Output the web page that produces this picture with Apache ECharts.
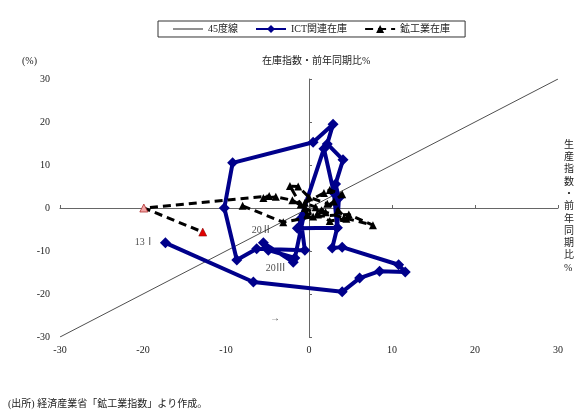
<!DOCTYPE html>
<html><head><meta charset="utf-8">
<script src="https://cdn.jsdelivr.net/npm/echarts@6/dist/echarts.min.js"></script>
<style>html,body{margin:0;padding:0;background:#fff}#c{width:580px;height:417px}</style>
</head><body><div id="c"></div>
<script>
// ---- data ----
const seriesNames = ['45度線', 'ICT関連在庫', '鉱工業在庫'];
const axisMin = -30, axisMax = 30, axisStep = 10;
const diagonalLine = [[-30, -30], [30, 30]];
// [生産指数 前年同期比, 在庫指数 前年同期比], 2013 I … 2020 III
const ictPoints = [
  [-17.3, -8.1], [-6.7, -17.2], [4.0, -19.5], [6.1, -16.3], [8.5, -14.7],
  [11.6, -14.9], [10.8, -13.2], [4.0, -9.1], [2.8, -9.3], [3.4, -4.6],
  [3.6, 2.3], [3.2, 5.6], [4.1, 11.2], [2.2, 14.9], [2.9, 19.5],
  [0.5, 15.3], [-9.2, 10.5], [-10.2, 0.0], [-8.7, -12.1], [-6.3, -9.5],
  [-0.5, -9.8], [-1.0, -2.5], [1.8, 13.8], [3.0, 3.5], [3.4, -4.6],
  [-1.4, -4.7], [-0.6, -1.5], [-1.7, -11.6], [-4.9, -9.8], [-5.5, -8.1],
  [-1.9, -12.6]
];
const miningPoints = [
  [-8.0, 0.5], [-3.1, -3.3], [0.5, -2.0], [4.8, -1.5], [7.7, -4.0],
  [4.2, -2.3], [2.0, -1.0], [0.8, 0.2], [-0.5, 1.2], [1.8, 3.5],
  [2.5, 4.2], [4.0, 3.2], [3.0, 1.5], [1.5, -0.5], [-0.2, -1.5],
  [-1.0, 0.8], [-2.3, 5.1], [-1.3, 5.0], [0.0, 2.5], [2.2, 1.0],
  [3.5, -0.5], [4.5, -2.5], [2.5, -3.0], [1.0, -1.5], [-0.5, 0.0],
  [-2.0, 1.8], [-4.0, 2.6], [-5.5, 2.3], [-4.8, 2.8], [-19.9, 0.0],
  [-12.8, -5.6]
];
const annotationText = ['13Ⅰ', '20Ⅱ', '20Ⅲ', '→'];
const annotationCoord = [[-19.8, -8.1], [-5.7, -5.1], [-4.0, -14.0], [-4.1, -25.6]];

// ---- chart ----
const FONT = '"Liberation Serif", "Noto Sans CJK JP", serif';
const chart = echarts.init(document.getElementById('c'));
const n = miningPoints.length;
const miningData = miningPoints.map((p, i) => {
  if (i === n - 2) return { value: p, itemStyle: { color: '#f4a6a6', borderColor: '#b03030', borderWidth: 0.8 } };
  if (i === n - 1) return { value: p, itemStyle: { color: '#e00000', borderColor: '#800000', borderWidth: 0.5 } };
  return { value: p };
});
const axisBase = { type: 'value', min: axisMin, max: axisMax, interval: axisStep, splitLine: { show: false } };
chart.setOption({
  animation: false,
  textStyle: { fontFamily: FONT },
  grid: { left: 60, right: 22, top: 79, bottom: 80 },
  title: {
    text: '在庫指数・前年同期比%', left: 257, top: 51,
    textStyle: { fontSize: 10, fontWeight: 'normal', color: '#222', fontFamily: FONT }
  },
  legend: {
    data: [
      { name: seriesNames[0], icon: 'path://M0,0H30V1H0Z', itemStyle: { color: '#222' } },
      { name: seriesNames[1] },
      { name: seriesNames[2] }
    ],
    left: 158, top: 21, itemWidth: 30, itemHeight: 10, itemGap: 17,
    padding: [3, 15, 3, 15], borderColor: '#333', borderWidth: 1,
    textStyle: { fontSize: 10, color: '#222', fontFamily: FONT }
  },
  xAxis: [
    Object.assign({}, axisBase, {
      position: 'top', axisLine: { onZero: true, lineStyle: { color: '#666', width: 1 } },
      axisTick: { show: true, inside: false, length: 3, lineStyle: { color: '#666' } },
      axisLabel: { show: false }
    }),
    Object.assign({}, axisBase, {
      position: 'bottom', axisLine: { show: false, onZero: false }, axisTick: { show: false },
      axisLabel: { fontSize: 10, color: '#222', margin: 8, fontFamily: FONT }
    })
  ],
  yAxis: [
    Object.assign({}, axisBase, {
      position: 'right', axisLine: { onZero: true, lineStyle: { color: '#666', width: 1 } },
      axisTick: { show: true, inside: false, length: 3, lineStyle: { color: '#666' } },
      axisLabel: { show: false }
    }),
    Object.assign({}, axisBase, {
      position: 'left', axisLine: { show: false, onZero: false }, axisTick: { show: false },
      axisLabel: { fontSize: 10, color: '#222', margin: 10, fontFamily: FONT }
    })
  ],
  graphic: [
    { type: 'text', left: 22, top: 56, style: { text: '(%)', fontSize: 10, fill: '#222', fontFamily: FONT } },
    { type: 'text', left: 564, top: 139, style: { text: '生\n産\n指\n数\n・\n前\n年\n同\n期\n比\n%', fontSize: 10, lineHeight: 12.3, fill: '#222', fontFamily: FONT } },
    { type: 'text', left: 8, top: 399, style: { text: '(出所) 経済産業省「鉱工業指数」より作成。', fontSize: 10, fill: '#222', fontFamily: FONT } }
  ],
  series: [
    {
      name: seriesNames[0], type: 'line', data: diagonalLine, showSymbol: false, symbol: 'none',
      lineStyle: { color: '#222', width: 0.8 }, itemStyle: { color: '#222' }, z: 1
    },
    {
      name: seriesNames[1], type: 'line', data: ictPoints, symbol: 'diamond', symbolSize: 11,
      lineStyle: { color: '#00008b', width: 4 }, itemStyle: { color: '#00008b' }, z: 3
    },
    {
      name: seriesNames[2], type: 'line', data: miningData, symbol: 'triangle', symbolSize: 8,
      lineStyle: { color: '#000', width: 3, type: [8, 5] }, itemStyle: { color: '#000' }, z: 4
    },
    {
      name: 'labels', type: 'scatter', symbolSize: 1, itemStyle: { color: 'rgba(0,0,0,0)' },
      data: annotationCoord.map((c, i) => ({ value: c, name: annotationText[i] })),
      label: { show: true, position: 'inside', formatter: p => p.name, fontSize: 10, color: '#222', fontFamily: FONT },
      z: 5, silent: true
    }
  ]
});
</script></body></html>
